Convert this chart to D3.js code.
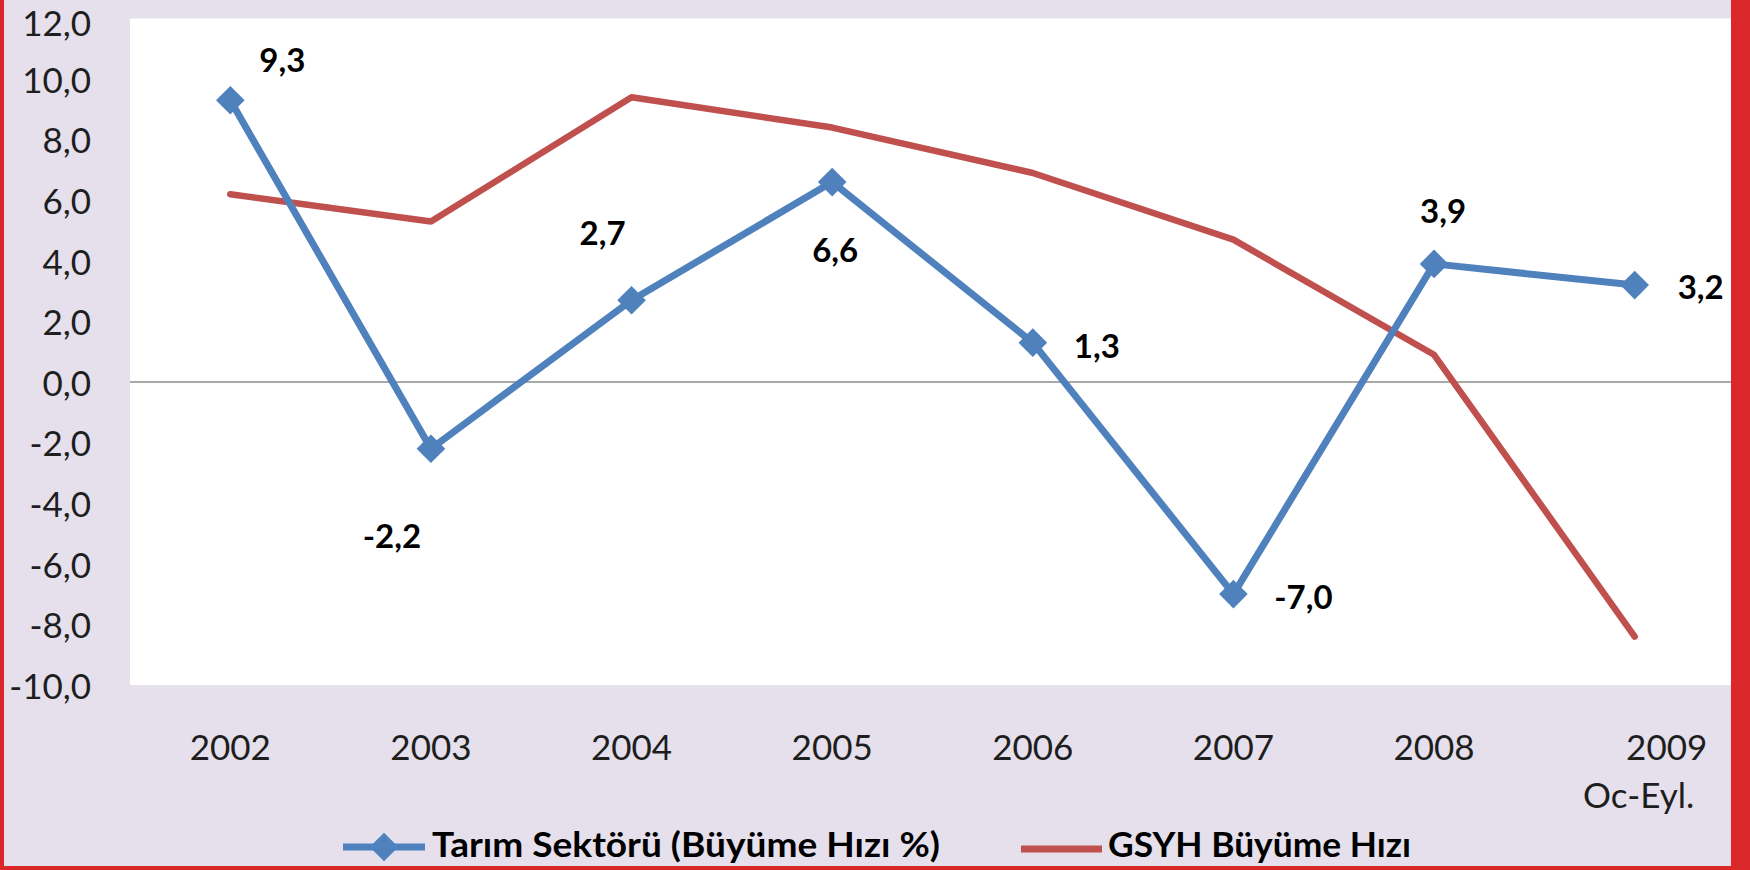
<!DOCTYPE html>
<html><head><meta charset="utf-8">
<script src="https://cdn.jsdelivr.net/npm/d3@7"></script>
<style>
html,body{margin:0;padding:0;background:#E5E0EC;}
svg{display:block;}
text{font-family:Lato,"Open Sans",sans-serif;}
</style>
</head><body>
<svg id="chart" width="1750" height="870"></svg>
<script>
// ---- data ----
const categories = ["2002","2003","2004","2005","2006","2007","2008","2009"];
const categorySubLabels = ["","","","","","","","Oc-Eyl."];
const tarimValues = [9.3,-2.2,2.7,6.6,1.3,-7.0,3.9,3.2];
const gsyhValues = [6.2,5.3,9.4,8.4,6.9,4.7,0.9,-8.4];
const yTickValues = [-10,-8,-6,-4,-2,0,2,4,6,8,10,12];
const seriesNames = ["Tarım Sektörü (Büyüme Hızı %)","GSYH Büyüme Hızı"];

// ---- layout ----
const W = 1750, H = 870;
const plot = {left:130, right:1735, top:18.5, bottom:685};
const blue = "#4F81BD", red = "#C0504D", bg = "#E5E0EC", border = "#D9272A";
const fmt = d => d.toFixed(1).replace(".", ",");

const svg = d3.select("#chart");
svg.append("rect").attr("width",W).attr("height",H).attr("fill",bg);

const x = d3.scaleBand().domain(categories).range([plot.left, plot.right]).padding(0);
const cx = c => x(c) + x.bandwidth()/2;
const y = d3.scaleLinear().domain([-10,12]).range([plot.bottom, plot.top]);

svg.append("rect").attr("x",plot.left).attr("y",plot.top)
  .attr("width",plot.right-plot.left).attr("height",plot.bottom-plot.top).attr("fill","#fff");

// zero line
svg.append("line").attr("x1",plot.left).attr("x2",plot.right)
  .attr("y1",y(0)).attr("y2",y(0)).attr("stroke","#8c8c8c").attr("stroke-width",1.6);

// y axis
const yAxis = svg.append("g").attr("transform",`translate(${plot.left},0)`)
  .call(d3.axisLeft(y).tickValues(yTickValues).tickFormat(fmt).tickSize(0).tickPadding(39));
yAxis.select(".domain").remove();
yAxis.selectAll("text").attr("font-size",35).attr("fill","#1e1e1e").attr("dy","0.38em")
  .style("font-family","Lato");
// keep every tick label inside the picture
yAxis.selectAll(".tick").each(function(d){
  const t = d3.select(this).select("text");
  const b = this.getBBox();
  const top = y(d) + b.y;
  if (top < 0) t.attr("y", -top);
});

// x axis
const xAxis = svg.append("g").attr("transform",`translate(0,${plot.bottom})`)
  .call(d3.axisBottom(x).tickSize(0).tickPadding(50));
xAxis.select(".domain").remove();
xAxis.selectAll("text").attr("font-size",35).attr("fill","#1e1e1e").style("font-family","Lato");
xAxis.selectAll(".tick").each(function(c,i){
  const sub = categorySubLabels[categories.indexOf(c)];
  if (sub) {
    const t = d3.select(this).select("text");
    t.text(null);
    t.append("tspan").attr("x",32).text(c);
    t.append("tspan").attr("x",4).attr("dy","1.37em").text(sub);
  }
});

// lines
const line = d3.line().x((d,i)=>cx(categories[i])).y(d=>y(d));
svg.append("path").datum(gsyhValues).attr("d",line).attr("fill","none")
  .attr("stroke",red).attr("stroke-width",6.5).attr("stroke-linecap","round").attr("stroke-linejoin","round");
svg.append("path").datum(tarimValues).attr("d",line).attr("fill","none")
  .attr("stroke",blue).attr("stroke-width",7).attr("stroke-linecap","round").attr("stroke-linejoin","round");

// markers
const diamond = d3.symbol().type(d3.symbolSquare).size(410);
svg.append("g").selectAll("path").data(tarimValues).join("path")
  .attr("d",diamond)
  .attr("transform",(d,i)=>`translate(${cx(categories[i])},${y(d)}) rotate(45)`)
  .attr("fill",blue);

// data labels (offsets relative to each point)
const labelOffsets = [[52,-28],[-39,99],[-29,-55],[3,80],[64,15],[70,15],[9,-41],[66,14]];
svg.append("g").selectAll("text").data(tarimValues).join("text")
  .attr("x",(d,i)=>cx(categories[i]) + labelOffsets[i][0])
  .attr("y",(d,i)=>y(d) + labelOffsets[i][1])
  .attr("text-anchor","middle").attr("font-size",33).attr("font-weight",700).attr("fill","#000")
  .text(fmt);

// legend
const lg = svg.append("g");
lg.append("line").attr("x1",343).attr("x2",425).attr("y1",847).attr("y2",847)
  .attr("stroke",blue).attr("stroke-width",7);
lg.append("path").attr("d",diamond).attr("transform","translate(384,847) rotate(45)").attr("fill",blue);
lg.append("text").attr("x",432).attr("y",857).attr("font-size",34).attr("font-weight",700)
  .attr("textLength",508).attr("lengthAdjust","spacingAndGlyphs").text(seriesNames[0]);
lg.append("line").attr("x1",1021).attr("x2",1102).attr("y1",849).attr("y2",849)
  .attr("stroke",red).attr("stroke-width",7);
lg.append("text").attr("x",1108).attr("y",857).attr("font-size",34).attr("font-weight",700)
  .attr("textLength",303).attr("lengthAdjust","spacingAndGlyphs").text(seriesNames[1]);

// red frame
svg.append("rect").attr("x",0).attr("y",0).attr("width",4).attr("height",H).attr("fill",border);
svg.append("rect").attr("x",1731).attr("y",0).attr("width",W-1731).attr("height",H).attr("fill",border);
svg.append("rect").attr("x",0).attr("y",866).attr("width",W).attr("height",4).attr("fill",border);
</script>
</body></html>
